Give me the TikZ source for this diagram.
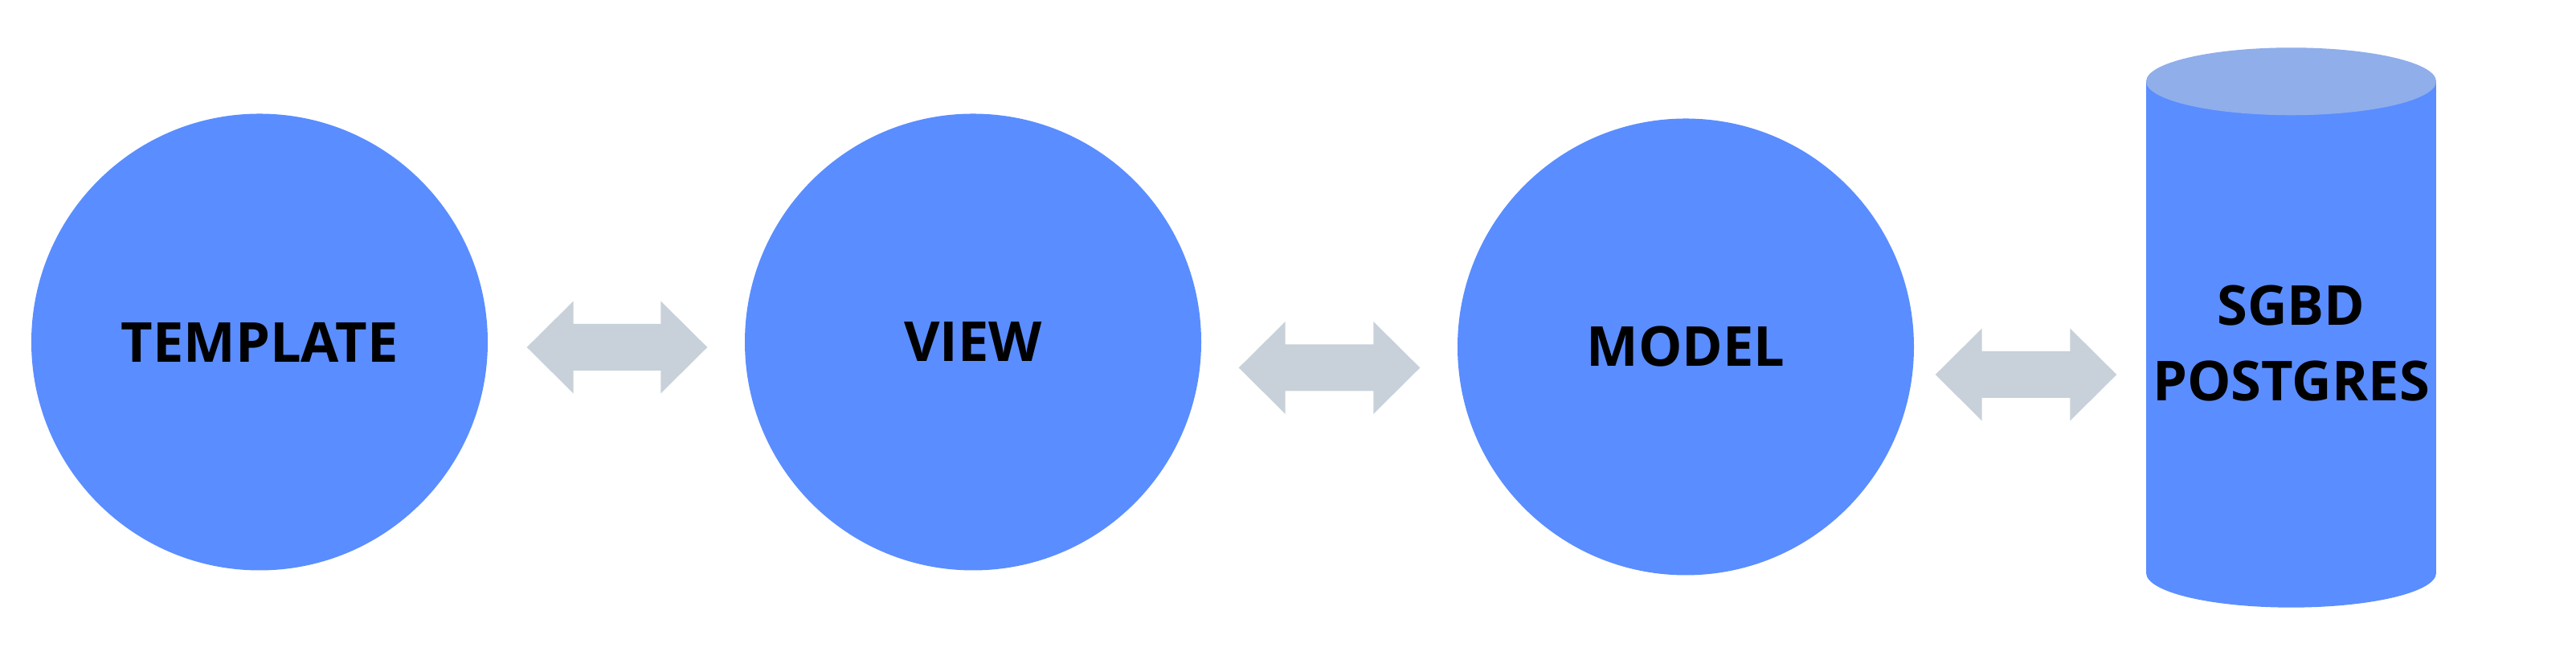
\documentclass[tikz,border=0pt]{standalone}
\usepackage{fontspec}
\setmainfont{Open Sans}
\usetikzlibrary{calc,positioning}

\definecolor{mvcblue}{RGB}{90,141,255}
\definecolor{dbtop}{RGB}{143,174,234}
\definecolor{linkgray}{RGB}{200,209,217}

\tikzset{
  layer/.style={circle, fill=mvcblue, minimum size=5.68cm, inner sep=0pt,
    font=\fontsize{19.5}{26.5}\selectfont\bfseries},
  dbbody/.style={rectangle, fill=mvcblue, minimum width=3.61cm, minimum height=6.10cm, inner sep=0pt},
  dbtext/.style={align=center, inner sep=0pt, font=\fontsize{19.5}{26.5}\selectfont\bfseries},
  link/.style={fill=linkgray, to path={
      (\tikztostart) -- ($(\tikztostart)+(0.58,0.575)$) -- ($(\tikztostart)+(0.58,0.29)$)
      -- ($(\tikztotarget)+(-0.58,0.29)$) -- ($(\tikztotarget)+(-0.58,0.575)$)
      -- (\tikztotarget) -- ($(\tikztotarget)+(-0.58,-0.575)$) -- ($(\tikztotarget)+(-0.58,-0.29)$)
      -- ($(\tikztostart)+(0.58,-0.29)$) -- ($(\tikztostart)+(0.58,-0.575)$) -- cycle}}
}

\begin{document}
\begin{tikzpicture}
                \useasboundingbox (0,0) rectangle (32.06,8.21);
                \node[layer] (template) at (3.23,3.955) {TEMPLATE};
                \node[layer] (view) at (12.11,3.955) {VIEW};
                \node[layer] (model) at (20.98,3.895) {MODEL};
                \node[dbbody] (sgbd) at (28.515,4.14) {};
                \fill[mvcblue] (sgbd.south) ellipse [x radius=1.805, y radius=0.43];
                \fill[dbtop] (sgbd.north) ellipse [x radius=1.805, y radius=0.42];
                \node[dbtext] (sgbdlabel) at (28.515,3.94) {SGBD\\POSTGRES};
                \path[link] ([shift={(0.48,-0.065)}]template.east) to ([shift={(-0.46,-0.065)}]view.west);
                \path[link] ([shift={(0.46,-0.32)}]view.east) to ([shift={(-0.46,-0.26)}]model.west);
                \path[link] ([shift={(0.26,-0.345)}]model.east) to ([shift={(-0.36,-0.59)}]sgbd.west);
            \end{tikzpicture}
\end{document}
